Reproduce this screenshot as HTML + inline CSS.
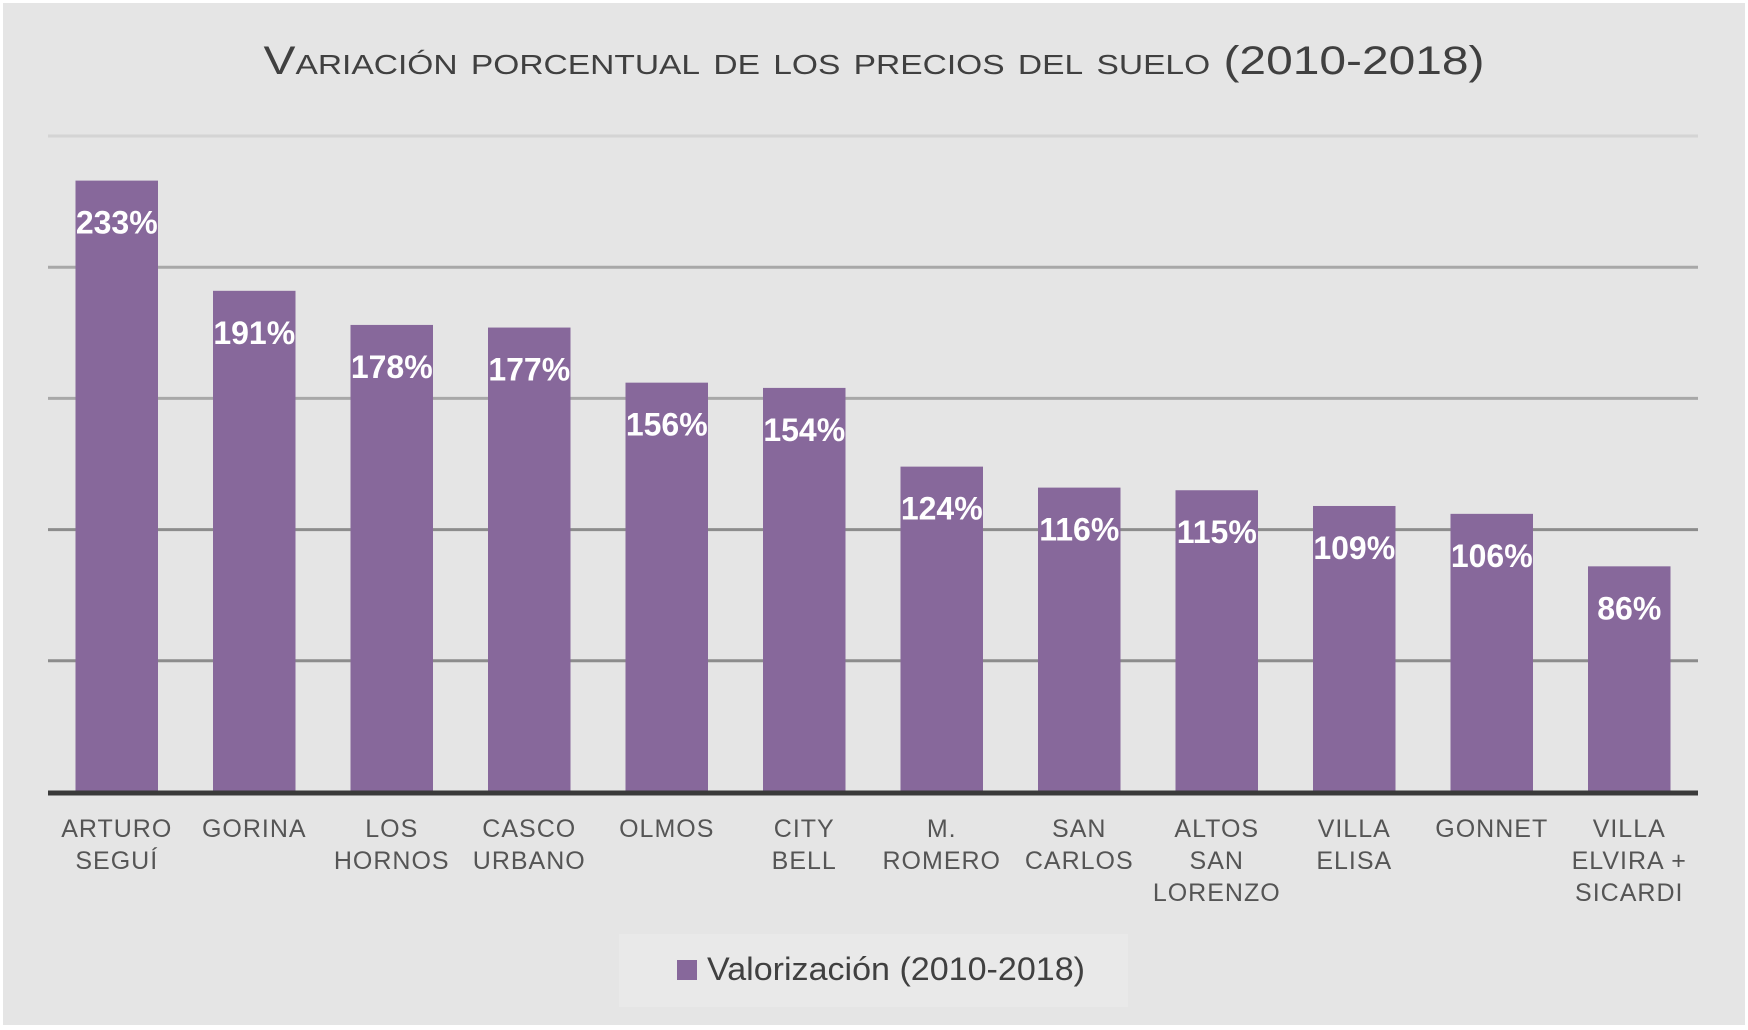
<!DOCTYPE html>
<html><head><meta charset="utf-8"><style>
html,body{margin:0;padding:0;background:#fff}
svg{display:block}
</style></head><body>
<svg id="chart" width="1748" height="1030" xmlns="http://www.w3.org/2000/svg" font-family="'Liberation Sans', sans-serif">
<rect x="0" y="0" width="1748" height="1030" fill="#ffffff"/>
<rect x="3" y="3" width="1742" height="1022" fill="#e5e5e5"/>
<text x="874" y="74" text-anchor="middle" font-family="'Liberation Sans Narrow','Liberation Sans',sans-serif" font-size="40" fill="#404040" style="font-variant:small-caps" textLength="1221" lengthAdjust="spacingAndGlyphs">Variación porcentual de los precios del suelo (2010-2018)</text>
<g id="grid"></g>
<g id="bars"></g>
<g id="labels"></g>
<line x1="48" y1="793" x2="1698" y2="793" stroke="#3a3a3a" stroke-width="5"/>
<g id="cats"></g>
<rect x="619" y="934" width="509" height="73" fill="#e9e9e9"/>
<rect x="677" y="960" width="20" height="20" fill="#87689b"/>
<text x="707" y="980" font-size="32" fill="#404040" textLength="378" lengthAdjust="spacingAndGlyphs">Valorización (2010-2018)</text>
</svg>
<script>
const categories = [["ARTURO","SEGUÍ"],["GORINA"],["LOS","HORNOS"],["CASCO","URBANO"],["OLMOS"],["CITY","BELL"],["M.","ROMERO"],["SAN","CARLOS"],["ALTOS","SAN","LORENZO"],["VILLA","ELISA"],["GONNET"],["VILLA","ELVIRA +","SICARDI"]];
const values = [233,191,178,177,156,154,124,116,115,109,106,86];
const gridTicks = [50,100,150,200,250];

const NS = "http://www.w3.org/2000/svg";
const x0 = 48, x1 = 1698, yBase = 792, yTop = 136, vMax = 250;
const band = (x1 - x0) / categories.length;
const barW = 82.5;
function y(v){ return yBase - (v / vMax) * (yBase - yTop); }
function xc(i){ return x0 + band * (i + 0.5); }
function mk(tag, attrs, parent){
  const e = document.createElementNS(NS, tag);
  for (const k in attrs) e.setAttribute(k, attrs[k]);
  document.getElementById(parent).appendChild(e);
  return e;
}
gridTicks.forEach((t, i) => {
  const l = mk('line', {x1: x0, x2: x1, y1: y(t), y2: y(t), stroke: i === gridTicks.length - 1 ? '#d4d4d4' : (i < 2 ? '#8c8c8c' : '#a8a8a8'), 'stroke-width': 3}, 'grid');
  
  
});
values.forEach((v, i) => {
  const r = mk('rect', {x: xc(i) - barW / 2, y: y(v), width: barW, height: yBase - y(v), fill: '#87689b'}, 'bars');
  
  
  const t = mk('text', {x: xc(i), y: y(v) + 53, 'text-anchor': 'middle', 'font-size': 32, 'font-weight': 'bold', fill: '#ffffff'}, 'labels');
  t.textContent = v + '%';
  
  
});
categories.forEach((c, i) => {
  const t = mk('text', {x: xc(i), 'text-anchor': 'middle', 'font-size': 25, fill: '#555555', 'letter-spacing': 1}, 'cats');
  
  
  c.forEach((line, j) => {
    const s = document.createElementNS(NS, 'tspan');
    s.setAttribute('x', xc(i));
    s.setAttribute('y', 837 + j * 32);
    s.textContent = line;
    t.appendChild(s);
  });
});
</script>
</body></html>
